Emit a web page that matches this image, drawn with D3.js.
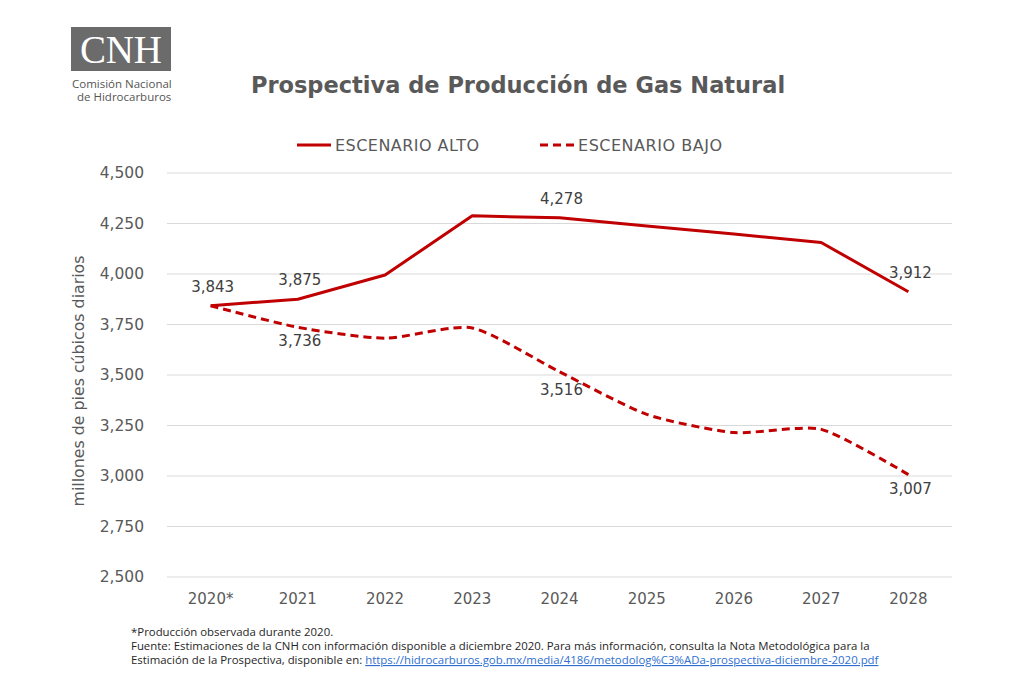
<!DOCTYPE html>
<html>
<head>
<meta charset="utf-8">
<script src="https://cdn.jsdelivr.net/npm/d3@7"></script>
<style>
  body { margin: 0; background: #fff; }
  svg { display: block; font-family: "DejaVu Sans", sans-serif; }
</style>
</head>
<body>
<svg id="chart" width="1024" height="680"></svg>
<script>
// data
const years = ["2020*", "2021", "2022", "2023", "2024", "2025", "2026", "2027", "2028"];
const alto = [3843, 3875, 3995, 4288, 4278, 4238, 4198, 4156, 3912];
const bajo = [3843, 3736, 3682, 3733, 3516, 3305, 3215, 3231, 3007];
const yTicks = [2500, 2750, 3000, 3250, 3500, 3750, 4000, 4250, 4500];
// which points get a value label
const altoLabels = [0, 1, 4, 8];
const bajoLabels = [1, 4, 8];

const red = "#C00000";
const grey = "#595959";

const svg = d3.select("#chart");

const x = d3.scaleBand().domain(years).range([167, 952]);
const cx = (d) => x(d) + x.bandwidth() / 2;
const y = d3.scaleLinear().domain([2500, 4500]).range([577, 173]);

// logo
svg.append("rect")
    .attr("x", 71).attr("y", 27)
    .attr("width", 100).attr("height", 44)
    .attr("fill", "#6b6b6b");
svg.append("text")
    .attr("x", 121).attr("y", 63)
    .attr("text-anchor", "middle")
    .attr("fill", "#fff")
    .attr("font-family", "Liberation Serif, serif")
    .attr("font-size", 39)
    .attr("textLength", 82)
    .text("CNH");
svg.append("text")
    .attr("x", 72).attr("y", 88)
    .attr("fill", "#555")
    .attr("font-family", "Open Sans, sans-serif")
    .attr("font-size", 11.5)
    .text("Comisión Nacional");
svg.append("text")
    .attr("x", 77).attr("y", 101)
    .attr("fill", "#555")
    .attr("font-family", "Open Sans, sans-serif")
    .attr("font-size", 11.5)
    .text("de Hidrocarburos");

// title
svg.append("text")
    .attr("x", 518).attr("y", 93)
    .attr("text-anchor", "middle")
    .attr("fill", grey)
    .attr("font-size", 22.5)
    .attr("font-weight", "bold")
    .text("Prospectiva de Producción de Gas Natural");

// legend
const legend = [
  { name: "ESCENARIO ALTO", dash: null, x0: 297 },
  { name: "ESCENARIO BAJO", dash: "8,5", x0: 540 }
];
const lg = svg.selectAll(".legend")
    .data(legend)
    .enter()
    .append("g")
    .attr("class", "legend")
    .attr("transform", (d) => "translate(" + d.x0 + ",145)");
lg.append("line")
    .attr("x1", 0).attr("x2", 34)
    .attr("stroke", red)
    .attr("stroke-width", 3)
    .attr("stroke-dasharray", (d) => d.dash);
lg.append("text")
    .attr("x", 38).attr("y", 6)
    .attr("fill", grey)
    .attr("font-size", 16)
    .attr("textLength", 144)
    .text((d) => d.name);

// grid + y axis
svg.append("g")
    .selectAll("line")
    .data(yTicks)
    .enter()
    .append("line")
    .attr("x1", 167).attr("x2", 952)
    .attr("y1", (d) => y(d)).attr("y2", (d) => y(d))
    .attr("stroke", "#d9d9d9")
    .attr("stroke-width", 1);

const yAxis = svg.append("g")
    .attr("transform", "translate(147,0)")
    .call(d3.axisLeft(y).tickValues(yTicks).tickSize(0).tickFormat(d3.format(",")));
yAxis.select(".domain").remove();
yAxis.selectAll("text")
    .attr("fill", grey)
    .attr("font-size", 15.5)
    .attr("font-family", "DejaVu Sans, sans-serif");

const xAxis = svg.append("g")
    .attr("transform", "translate(0,590)")
    .call(d3.axisBottom(x).tickSize(0));
xAxis.select(".domain").remove();
xAxis.selectAll("text")
    .attr("fill", grey)
    .attr("font-size", 15)
    .attr("font-family", "DejaVu Sans, sans-serif");

svg.append("text")
    .attr("transform", "translate(84,381) rotate(-90)")
    .attr("text-anchor", "middle")
    .attr("fill", grey)
    .attr("font-size", 15.8)
    .text("millones de pies cúbicos diarios");

// lines
const lineAlto = d3.line()
    .x((d, i) => cx(years[i]))
    .y((d) => y(d));
const lineBajo = d3.line()
    .x((d, i) => cx(years[i]))
    .y((d) => y(d))
    .curve(d3.curveCardinal.tension(0.35));

svg.append("path")
    .datum(alto)
    .attr("d", lineAlto)
    .attr("fill", "none")
    .attr("stroke", red)
    .attr("stroke-width", 3)
    .attr("stroke-linejoin", "round");
svg.append("path")
    .datum(bajo)
    .attr("d", lineBajo)
    .attr("fill", "none")
    .attr("stroke", red)
    .attr("stroke-width", 3)
    .attr("stroke-dasharray", "8,5");

// value labels
const fmt = d3.format(",");
svg.selectAll(".lblAlto")
    .data(altoLabels)
    .enter()
    .append("text")
    .attr("class", "lblAlto")
    .attr("x", (i) => cx(years[i]) + 2)
    .attr("y", (i) => y(alto[i]) - 14)
    .attr("text-anchor", "middle")
    .attr("fill", "#404040")
    .attr("font-size", 15)
    .text((i) => fmt(alto[i]));
svg.selectAll(".lblBajo")
    .data(bajoLabels)
    .enter()
    .append("text")
    .attr("class", "lblBajo")
    .attr("x", (i) => cx(years[i]) + 2)
    .attr("y", (i) => y(bajo[i]) + (i === 4 ? 23 : 19))
    .attr("text-anchor", "middle")
    .attr("fill", "#404040")
    .attr("font-size", 15)
    .text((i) => fmt(bajo[i]));

// footnote
const notes = [
  "*Producción observada durante 2020.",
  "Fuente: Estimaciones de la CNH con información disponible a diciembre 2020. Para más información, consulta la Nota Metodológica para la"
];
svg.selectAll(".note")
    .data(notes)
    .enter()
    .append("text")
    .attr("class", "note")
    .attr("x", 131)
    .attr("y", (d, i) => 636 + i * 14)
    .attr("fill", "#262626")
    .attr("font-family", "Open Sans, sans-serif")
    .attr("font-size", 11.4)
    .text((d) => d);
const last = svg.append("text")
    .attr("x", 131).attr("y", 664)
    .attr("fill", "#262626")
    .attr("font-family", "Open Sans, sans-serif")
    .attr("font-size", 11.4);
last.append("tspan").text("Estimación de la Prospectiva, disponible en:  ");
last.append("tspan")
    .attr("fill", "#2f6fd0")
    .attr("text-decoration", "underline")
    .text("https://hidrocarburos.gob.mx/media/4186/metodolog%C3%ADa-prospectiva-diciembre-2020.pdf");
</script>
</body>
</html>
